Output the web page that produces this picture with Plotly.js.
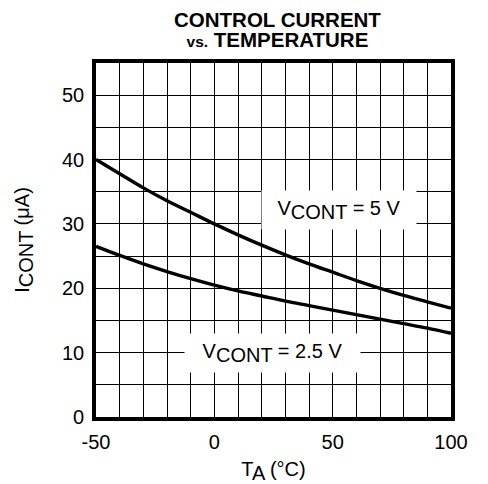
<!DOCTYPE html>
<html>
<head>
<meta charset="utf-8">
<script src="https://cdn.plot.ly/plotly-3.0.1.min.js"></script>
<style>html,body{margin:0;padding:0;background:#fff}#chart{width:488px;height:484px}</style>
</head>
<body>
<div id="chart"></div>
<script>
const temperature = [-50,-40,-30,-20,-10,0,10,20,30,40,50,60,70,80,90,100];
const icont5V  = [40,37.8,35.6,33.6,31.8,30,28.3,26.7,25.2,23.8,22.5,21.2,20,18.9,17.9,16.9];
const icont25V = [26.5,25.1,23.8,22.6,21.5,20.5,19.6,18.8,18.0,17.3,16.6,15.9,15.2,14.5,13.8,13.0];
const xTickVals = [-50,0,50,100];
const xTickText = ['-50','0','50','100'];
const yTickVals = [0,10,20,30,40,50];
const yTickText = ['0','10','20','30','40','50'];
const titleText = '<span style="font-size:20.5px"><b>CONTROL CURRENT</b></span><br><b>vs.</b><span style="font-size:20.5px"><b> TEMPERATURE</b></span>';
const seriesLabels = ['V<sub><span style="font-size:20px">CONT</span></sub> = 5 V','V<sub><span style="font-size:20px">CONT</span></sub> = 2.5 V'];
const labelPos = [[52.5,32.1],[24.6,10.0]];
const labelWidths = [140,161];

const font = 'Liberation Sans, Arial, sans-serif';
const traces = [
  {x: temperature, y: icont5V, mode:'lines', line:{color:'#000', width:3.4, shape:'spline'}, hoverinfo:'skip'},
  {x: temperature, y: icont25V, mode:'lines', line:{color:'#000', width:3.4, shape:'spline'}, hoverinfo:'skip'}
];
const axisCommon = {showgrid:true, gridcolor:'#000', gridwidth:1, zeroline:false, showline:true,
  linecolor:'#000', linewidth:3.8, mirror:true, ticks:'', ticklen:0, tickfont:{size:20}, fixedrange:true};
const layout = {
  width:488, height:484,
  margin:{l:96, r:37, t:63, b:67},
  paper_bgcolor:'#fff', plot_bgcolor:'#fff',
  showlegend:false,
  font:{family:font, color:'#000', size:20},
  xaxis:Object.assign({}, axisCommon, {range:[-50,100], tickvals:xTickVals, ticktext:xTickText,
         minor:{dtick:10, tick0:-50, showgrid:true, gridcolor:'#000', gridwidth:1, ticks:''},
         ticklabelstandoff:4,
         title:{text:'T<sub><span style="font-size:20px">A</span></sub> (°C)', font:{size:20}, standoff:15}}),
  yaxis:Object.assign({}, axisCommon, {range:[0,55], tickvals:yTickVals, ticktext:yTickText,
         minor:{dtick:5, tick0:0, showgrid:true, gridcolor:'#000', gridwidth:1, ticks:''},
         ticklabelstandoff:4,
         title:{text:'I<sub><span style="font-size:20px">CONT</span></sub> (μA)', font:{size:20}, standoff:28}}),
  annotations: seriesLabels.map((t,i)=>({x:labelPos[i][0], y:labelPos[i][1], xref:'x', yref:'y', text:t, showarrow:false,
       bgcolor:'#fff', borderpad:7, width:labelWidths[i], height:24, font:{size:20, family:font}}))
    .concat([
      {xref:'paper', yref:'paper', x:0.512, y:1.096, xanchor:'center', yanchor:'middle', text:titleText, showarrow:false, font:{size:15.5, family:font}}
    ])
};
Plotly.newPlot('chart', traces, layout, {staticPlot:true, displayModeBar:false});
</script>
</body>
</html>
